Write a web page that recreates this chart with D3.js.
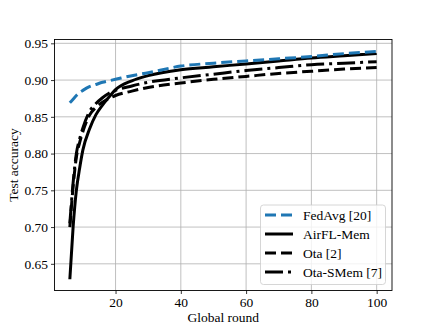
<!DOCTYPE html>
<html>
<head>
<meta charset="utf-8">
<script src="https://cdn.jsdelivr.net/npm/d3@7"></script>
<style>
  body { margin: 0; background: #fff; }
  text { font-family: "Liberation Serif", "Times New Roman", serif; }
</style>
</head>
<body>
<div id="chart"></div>
<script>
var rounds = [6, 7, 8, 9, 10, 12, 14, 16, 18, 20, 25, 30, 40, 50, 60, 70, 80, 90, 100];

var fedAvg   = [0.869, 0.874, 0.879, 0.883, 0.886, 0.891, 0.894, 0.897, 0.899, 0.901, 0.906, 0.910, 0.919, 0.923, 0.926, 0.929, 0.932, 0.936, 0.939];
var airflMem = [0.629, 0.700, 0.750, 0.780, 0.805, 0.833, 0.853, 0.866, 0.877, 0.887, 0.899, 0.906, 0.914, 0.918, 0.922, 0.926, 0.930, 0.933, 0.936];
var ota      = [0.700, 0.755, 0.795, 0.815, 0.830, 0.852, 0.863, 0.870, 0.875, 0.879, 0.885, 0.890, 0.896, 0.901, 0.905, 0.909, 0.912, 0.915, 0.917];
var otaSMem  = [0.705, 0.760, 0.800, 0.820, 0.835, 0.857, 0.868, 0.876, 0.882, 0.886, 0.892, 0.897, 0.903, 0.908, 0.913, 0.917, 0.921, 0.923, 0.925];

var xTicks = [20, 40, 60, 80, 100];
var yTicks = [0.65, 0.70, 0.75, 0.80, 0.85, 0.90, 0.95];

var series = [
  {name: "FedAvg [20]",   values: fedAvg,   color: "#1f77b4", dash: "11,5"},
  {name: "AirFL-Mem",     values: airflMem, color: "#000",    dash: null},
  {name: "Ota [2]",       values: ota,      color: "#000",    dash: "11,5"},
  {name: "Ota-SMem [7]",  values: otaSMem,  color: "#000",    dash: "18,5,3,5"}
];

var width = 436, height = 327;
var plot = {left: 54.5, right: 392, top: 39.5, bottom: 290.5};

var svg = d3.select("#chart").append("svg")
  .attr("width", width)
  .attr("height", height);

var x = d3.scaleLinear().domain([1.3, 104.7]).range([plot.left, plot.right]);
var y = d3.scaleLinear().domain([0.6137, 0.9552]).range([plot.bottom, plot.top]);

// grid
svg.append("g").selectAll("line").data(xTicks).enter().append("line")
  .attr("x1", function(d) { return x(d); })
  .attr("x2", function(d) { return x(d); })
  .attr("y1", plot.top).attr("y2", plot.bottom)
  .attr("stroke", "#b0b0b0").attr("stroke-width", 0.8);
svg.append("g").selectAll("line").data(yTicks).enter().append("line")
  .attr("y1", function(d) { return y(d); })
  .attr("y2", function(d) { return y(d); })
  .attr("x1", plot.left).attr("x2", plot.right)
  .attr("stroke", "#b0b0b0").attr("stroke-width", 0.8);

// lines
var line = d3.line()
  .x(function(d) { return x(d[0]); })
  .y(function(d) { return y(d[1]); })
  .curve(d3.curveMonotoneX);

var clip = svg.append("clipPath").attr("id", "clip").append("rect")
  .attr("x", plot.left).attr("y", plot.top)
  .attr("width", plot.right - plot.left).attr("height", plot.bottom - plot.top);

// draw so that FedAvg ends up on top like the reference
[1, 3, 2, 0].forEach(function(i) {
  var s = series[i];
  svg.append("path")
    .datum(rounds.map(function(r, k) { return [r, s.values[k]]; }))
    .attr("d", line)
    .attr("fill", "none")
    .attr("stroke", s.color)
    .attr("stroke-width", 3)
    .attr("stroke-dasharray", s.dash)
    .attr("clip-path", "url(#clip)");
});

// axes
var xAxis = svg.append("g")
  .attr("transform", "translate(0," + plot.bottom + ")")
  .call(d3.axisBottom(x).tickValues(xTicks).tickSize(3.5).tickPadding(3).tickFormat(d3.format("d")));
var yAxis = svg.append("g")
  .attr("transform", "translate(" + plot.left + ",0)")
  .call(d3.axisLeft(y).tickValues(yTicks).tickSize(3.5).tickPadding(3).tickFormat(d3.format(".2f")));

[xAxis, yAxis].forEach(function(a) {
  a.select(".domain").remove();
  a.selectAll("text").attr("font-size", 13.5).attr("fill", "#000")
    .style("font-family", "'Liberation Serif', serif");
  a.selectAll("line").attr("stroke", "#000").attr("stroke-width", 0.8);
});

// frame
svg.append("rect")
  .attr("x", plot.left).attr("y", plot.top)
  .attr("width", plot.right - plot.left).attr("height", plot.bottom - plot.top)
  .attr("fill", "none").attr("stroke", "#000").attr("stroke-width", 0.9);

// axis labels
svg.append("text")
  .attr("x", (plot.left + plot.right) / 2).attr("y", 322)
  .attr("text-anchor", "middle").attr("font-size", 13.5)
  .text("Global round");
svg.append("text")
  .attr("transform", "translate(18," + ((plot.top + plot.bottom) / 2) + ") rotate(-90)")
  .attr("text-anchor", "middle").attr("font-size", 13.5)
  .text("Test accuracy");

// legend
var legend = svg.append("g");
legend.append("rect")
  .attr("x", 260.5).attr("y", 205).attr("width", 125).attr("height", 79.5)
  .attr("rx", 3).attr("fill", "#fff").attr("fill-opacity", 0.8)
  .attr("stroke", "#ccc").attr("stroke-width", 0.8);

var rows = legend.selectAll("g.item").data(series).enter().append("g")
  .attr("transform", function(d, i) { return "translate(0," + (215 + i * 19) + ")"; });
rows.append("line")
  .attr("x1", 265).attr("x2", 293).attr("y1", 0).attr("y2", 0)
  .attr("stroke", function(d) { return d.color; })
  .attr("stroke-width", 3)
  .attr("stroke-dasharray", function(d) { return d.dash; });
rows.append("text")
  .attr("x", 303).attr("y", 0).attr("dy", "0.35em")
  .attr("font-size", 13.5)
  .text(function(d) { return d.name; });
</script>
</body>
</html>
